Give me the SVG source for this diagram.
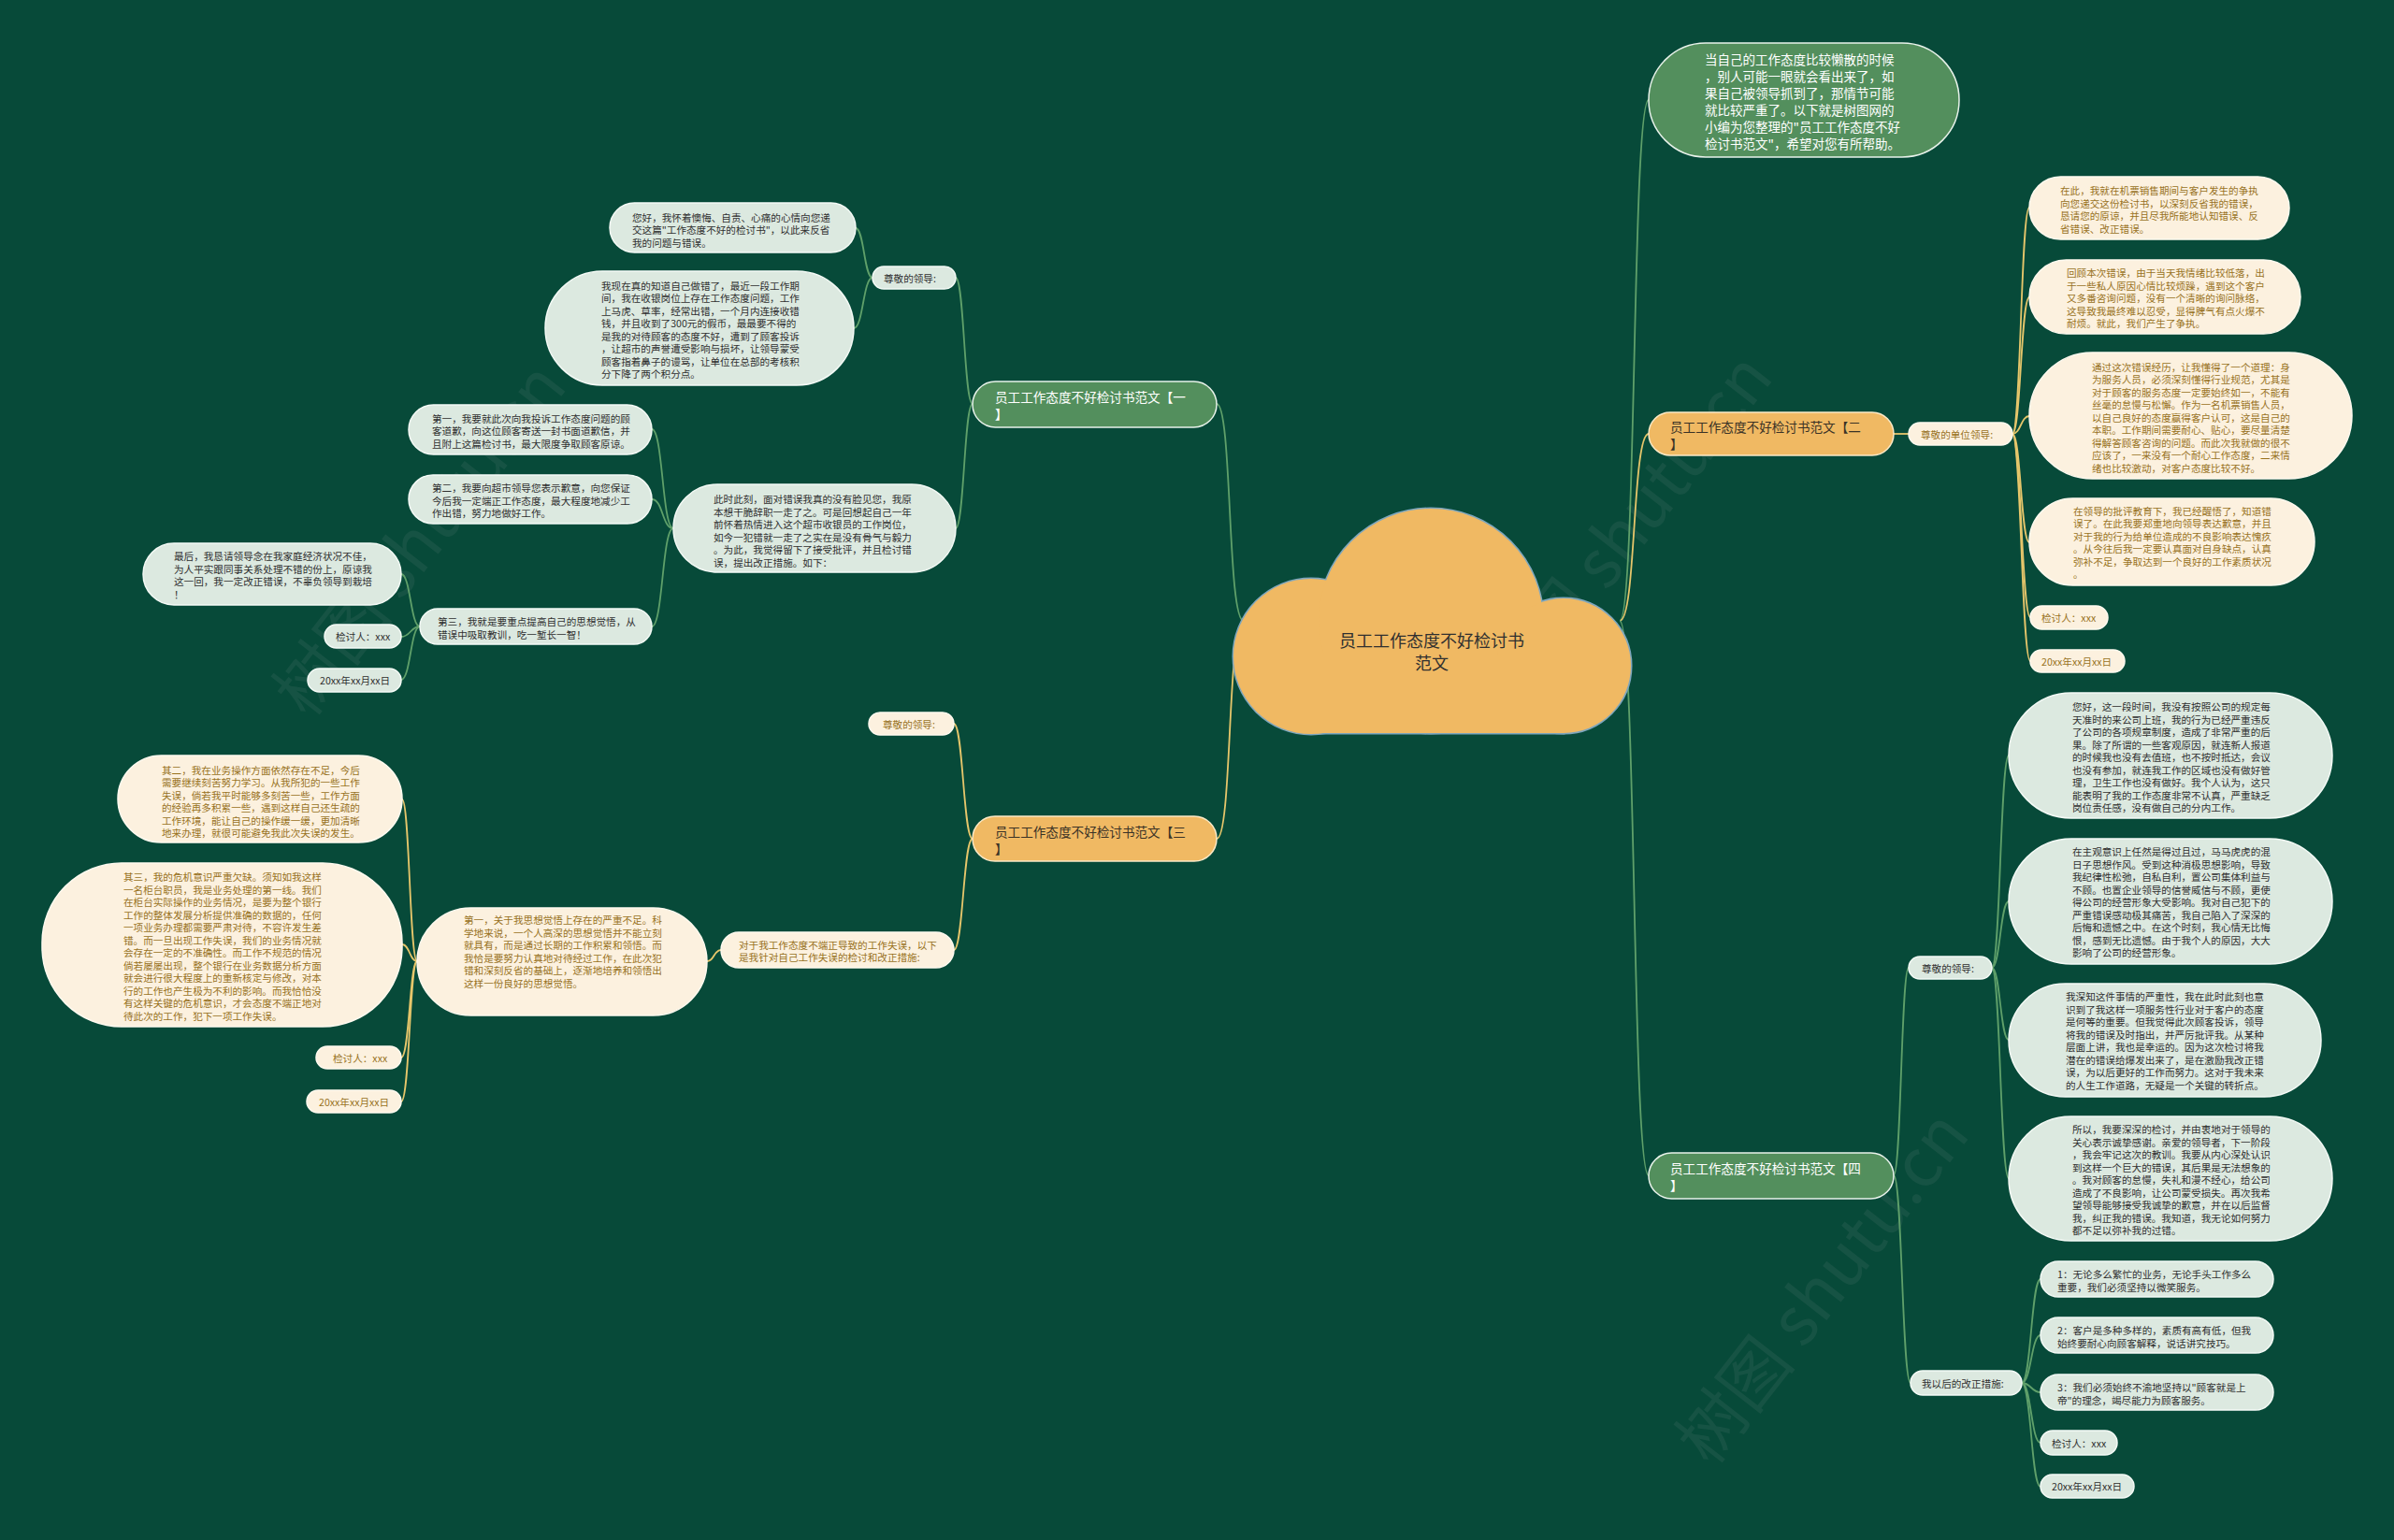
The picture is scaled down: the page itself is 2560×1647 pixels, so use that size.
<svg xmlns="http://www.w3.org/2000/svg" width="2560" height="1647" viewBox="0 0 2560 1647">
<style>
.t{font-family:"Noto Sans CJK SC","Noto Sans",sans-serif;font-size:10.6px;dominant-baseline:central}
.tg{fill:#2f2f2f}.tc{fill:#98711d}.tw{fill:#ffffff}.td{fill:#3a3226}
.cn{fill:#fcf1df;stroke:#fffaf0;stroke-width:1.5}
.gn{fill:#dce9e0;stroke:#f4faf6;stroke-width:1.5}
.gb{fill:#538f5d;stroke:#e8f2ea;stroke-width:1.5}
.ob{fill:#f0b963;stroke:#fbe9c6;stroke-width:1.5}
.b{font-size:13.6px}
.cy{fill:none;stroke:#e6c66b;stroke-width:1.8}
.cg{fill:none;stroke:#5fa06a;stroke-width:1.8}
.wm{font-family:"Noto Sans CJK SC",sans-serif;font-size:72px;fill:#b0b0b0;opacity:.09}
</style>
<rect width="2560" height="1647" fill="#074a39"/>

<g id="watermarks">
<text class="wm" transform="translate(330,770) rotate(-52)">树图 shutu.cn</text>
<text class="wm" transform="translate(1620,760) rotate(-52)">树图 shutu.cn</text>
<text class="wm" transform="translate(1830,1570) rotate(-52)">树图 shutu.cn</text>
</g>

<g id="connectors">
<path class="cg" d="M1732 664 C1750 664 1745 107 1763 107"/>
<path class="cy" d="M1732 664 C1750 664 1745 464 1763 464"/>
<path class="cg" d="M1732 664 C1750 664 1745 1257 1763 1257"/>
<path class="cg" d="M1330 664 C1312 664 1318 432 1301 432"/>
<path class="cy" d="M1330 664 C1312 664 1318 897 1301 897"/>

<path class="cy" d="M2025 464 L2041 464"/>
<path class="cy" d="M2152 464 C2161 464 2161 222 2170 222"/>
<path class="cy" d="M2152 464 C2161 464 2161 318 2170 318"/>
<path class="cy" d="M2152 464 C2161 464 2161 445 2170 445"/>
<path class="cy" d="M2152 464 C2161 464 2161 580 2170 580"/>
<path class="cy" d="M2152 464 C2161 464 2162 660 2171 660"/>
<path class="cy" d="M2152 464 C2161 464 2162 707 2171 707"/>

<path class="cg" d="M2025 1257 C2033 1257 2033 1035 2041 1035"/>
<path class="cg" d="M2025 1257 C2034 1257 2034 1479 2043 1479"/>
<path class="cg" d="M2130 1035 C2139 1035 2139 808 2148 808"/>
<path class="cg" d="M2130 1035 C2139 1035 2139 964 2148 964"/>
<path class="cg" d="M2130 1035 C2139 1035 2139 1112 2148 1112"/>
<path class="cg" d="M2130 1035 C2139 1035 2139 1260 2148 1260"/>
<path class="cg" d="M2162 1479 C2172 1479 2172 1368 2182 1368"/>
<path class="cg" d="M2162 1479 C2172 1479 2172 1428 2182 1428"/>
<path class="cg" d="M2162 1479 C2172 1479 2172 1489 2182 1489"/>
<path class="cg" d="M2162 1479 C2172 1479 2172 1543 2182 1543"/>
<path class="cg" d="M2162 1479 C2172 1479 2172 1590 2182 1590"/>

<path class="cg" d="M1040 432 C1031 432 1031 297 1022 297"/>
<path class="cg" d="M1040 432 C1031 432 1031 565 1022 565"/>
<path class="cg" d="M933 297 C924 297 924 244 915 244"/>
<path class="cg" d="M933 297 C923 297 923 351 913 351"/>
<path class="cg" d="M720 565 C708 565 709 459 697 459"/>
<path class="cg" d="M720 565 C708 565 709 534 697 534"/>
<path class="cg" d="M720 565 C708 565 709 670 697 670"/>
<path class="cg" d="M449 670 C439 670 439 614 429 614"/>
<path class="cg" d="M449 670 C439 670 439 681 429 681"/>
<path class="cg" d="M449 670 C439 670 439 727 429 727"/>

<path class="cy" d="M1040 897 C1030 897 1030 774 1020 774"/>
<path class="cy" d="M1040 897 C1030 897 1030 1016 1020 1016"/>
<path class="cy" d="M771 1016 C763 1016 764 1028 756 1028"/>
<path class="cy" d="M446 1028 C438 1028 438 855 430 855"/>
<path class="cy" d="M446 1028 C438 1028 438 1010 430 1010"/>
<path class="cy" d="M446 1028 C438 1028 438 1131 429 1131"/>
<path class="cy" d="M446 1028 C438 1028 438 1178 429 1178"/>
</g>

<g id="root">
<g fill="#f0b963" stroke="#7ea6bd" stroke-width="3">
<circle cx="1402" cy="702" r="83"/>
<circle cx="1530" cy="664" r="120"/>
<circle cx="1672" cy="712" r="72"/>
<rect x="1402" y="700" width="270" height="84"/>
</g>
<g fill="#f0b963">
<circle cx="1402" cy="702" r="83"/>
<circle cx="1530" cy="664" r="120"/>
<circle cx="1672" cy="712" r="72"/>
<rect x="1402" y="700" width="270" height="84"/>
</g>
<text class="t tg" style="font-size:18px" text-anchor="middle"><tspan x="1531" y="684">员工工作态度不好检讨书</tspan><tspan x="1531" y="708">范文</tspan></text>
</g>

<g id="intro">
<rect class="gb" x="1763" y="46" width="332" height="122" rx="61"/>
<text class="t tw" style="font-size:13.5px"><tspan x="1823" y="63">当自己的工作态度比较懒散的时候</tspan><tspan x="1823" y="81">，别人可能一眼就会看出来了，如</tspan><tspan x="1823" y="99">果自己被领导抓到了，那情节可能</tspan><tspan x="1823" y="117">就比较严重了。以下就是树图网的</tspan><tspan x="1823" y="135">小编为您整理的"员工工作态度不好</tspan><tspan x="1823" y="153">检讨书范文"，希望对您有所帮助。</tspan></text>
</g>

<g id="b1">
<rect class="gb" x="1040" y="408" width="261" height="49" rx="24.5"/>
<text class="t tw b"><tspan x="1064" y="424">员工工作态度不好检讨书范文【一</tspan><tspan x="1064" y="442">】</tspan></text>
</g>
<g id="b2">
<rect class="ob" x="1763" y="441" width="262" height="46" rx="23"/>
<text class="t td b"><tspan x="1786" y="456">员工工作态度不好检讨书范文【二</tspan><tspan x="1786" y="474">】</tspan></text>
</g>
<g id="b3">
<rect class="ob" x="1040" y="873" width="261" height="48" rx="24"/>
<text class="t td b"><tspan x="1064" y="889">员工工作态度不好检讨书范文【三</tspan><tspan x="1064" y="907">】</tspan></text>
</g>
<g id="b4">
<rect class="gb" x="1763" y="1233" width="262" height="49" rx="24.5"/>
<text class="t tw b"><tspan x="1786" y="1249">员工工作态度不好检讨书范文【四</tspan><tspan x="1786" y="1267">】</tspan></text>
</g>

<!-- branch 2 -->
<g id="b2-lead">
<rect class="cn" x="2041" y="452" width="111" height="24" rx="12"/>
<text class="t tc" x="2054" y="464">尊敬的单位领导:</text>
</g>
<g id="b2-a">
<rect class="cn" x="2170" y="189" width="278" height="67" rx="33.5"/>
<text class="t tc"><tspan x="2203" y="203">在此，我就在机票销售期间与客户发生的争执</tspan><tspan x="2203" y="216.5">向您递交这份检讨书，以深刻反省我的错误，</tspan><tspan x="2203" y="230">恳请您的原谅，并且尽我所能地认知错误、反</tspan><tspan x="2203" y="243.5">省错误、改正错误。</tspan></text>
</g>
<g id="b2-b">
<rect class="cn" x="2170" y="278" width="290" height="79" rx="39.5"/>
<text class="t tc"><tspan x="2210" y="291">回顾本次错误，由于当天我情绪比较低落，出</tspan><tspan x="2210" y="304.5">于一些私人原因心情比较烦躁，遇到这个客户</tspan><tspan x="2210" y="318">又多番咨询问题，没有一个清晰的询问脉络，</tspan><tspan x="2210" y="331.5">这导致我最终难以忍受，显得脾气有点火爆不</tspan><tspan x="2210" y="345">耐烦。就此，我们产生了争执。</tspan></text>
</g>
<g id="b2-c">
<rect class="cn" x="2170" y="377" width="345" height="135" rx="67.5"/>
<text class="t tc"><tspan x="2237" y="391.5">通过这次错误经历，让我懂得了一个道理：身</tspan><tspan x="2237" y="405">为服务人员，必须深刻懂得行业规范，尤其是</tspan><tspan x="2237" y="418.5">对于顾客的服务态度一定要始终如一，不能有</tspan><tspan x="2237" y="432">丝毫的怠慢与松懈。作为一名机票销售人员，</tspan><tspan x="2237" y="445.5">以自己良好的态度赢得客户认可，这是自己的</tspan><tspan x="2237" y="459">本职。工作期间需要耐心、贴心，要尽量清楚</tspan><tspan x="2237" y="472.5">得解答顾客咨询的问题。而此次我就做的很不</tspan><tspan x="2237" y="486">应该了，一来没有一个耐心工作态度，二来情</tspan><tspan x="2237" y="499.5">绪也比较激动，对客户态度比较不好。</tspan></text>
</g>
<g id="b2-d">
<rect class="cn" x="2170" y="533" width="305" height="93" rx="46.5"/>
<text class="t tc"><tspan x="2217" y="545.5">在领导的批评教育下，我已经醒悟了，知道错</tspan><tspan x="2217" y="559">误了。在此我要郑重地向领导表达歉意，并且</tspan><tspan x="2217" y="572.5">对于我的行为给单位造成的不良影响表达愧疚</tspan><tspan x="2217" y="586">。从今往后我一定要认真面对自身缺点，认真</tspan><tspan x="2217" y="599.5">弥补不足，争取达到一个良好的工作素质状况</tspan><tspan x="2217" y="613">。</tspan></text>
</g>
<g id="b2-sign">
<rect class="cn" x="2171" y="648" width="83" height="25" rx="12.5"/>
<text class="t tc" x="2183" y="660.5">检讨人：xxx</text>
</g>
<g id="b2-date">
<rect class="cn" x="2171" y="695" width="101" height="24" rx="12"/>
<text class="t tc" x="2183" y="707">20xx年xx月xx日</text>
</g>

<!-- branch 4 -->
<g id="b4-lead">
<rect class="gn" x="2041" y="1023" width="89" height="24" rx="12"/>
<text class="t tg" x="2055" y="1035">尊敬的领导:</text>
</g>
<g id="b4-e">
<rect class="gn" x="2148" y="741" width="346" height="134" rx="67"/>
<text class="t tg"><tspan x="2216" y="755">您好，这一段时间，我没有按照公司的规定每</tspan><tspan x="2216" y="768.5">天准时的来公司上班，我的行为已经严重违反</tspan><tspan x="2216" y="782">了公司的各项规章制度，造成了非常严重的后</tspan><tspan x="2216" y="795.5">果。除了所谓的一些客观原因，就连新人报道</tspan><tspan x="2216" y="809">的时候我也没有去值班，也不按时抵达，会议</tspan><tspan x="2216" y="822.5">也没有参加，就连我工作的区域也没有做好管</tspan><tspan x="2216" y="836">理，卫生工作也没有做好。我个人认为，这只</tspan><tspan x="2216" y="849.5">能表明了我的工作态度非常不认真，严重缺乏</tspan><tspan x="2216" y="863">岗位责任感，没有做自己的分内工作。</tspan></text>
</g>
<g id="b4-f">
<rect class="gn" x="2148" y="897" width="346" height="134" rx="67"/>
<text class="t tg"><tspan x="2216" y="910">在主观意识上任然是得过且过，马马虎虎的混</tspan><tspan x="2216" y="923.5">日子思想作风。受到这种消极思想影响，导致</tspan><tspan x="2216" y="937">我纪律性松弛，自私自利，置公司集体利益与</tspan><tspan x="2216" y="950.5">不顾。也置企业领导的信誉威信与不顾，更使</tspan><tspan x="2216" y="964">得公司的经营形象大受影响。我对自己犯下的</tspan><tspan x="2216" y="977.5">严重错误感动极其痛苦，我自己陷入了深深的</tspan><tspan x="2216" y="991">后悔和遗憾之中。在这个时刻，我心情无比悔</tspan><tspan x="2216" y="1004.5">恨，感到无比遗憾。由于我个人的原因，大大</tspan><tspan x="2216" y="1018">影响了公司的经营形象。</tspan></text>
</g>
<g id="b4-g">
<rect class="gn" x="2148" y="1052" width="334" height="121" rx="60.5"/>
<text class="t tg"><tspan x="2209" y="1065">我深知这件事情的严重性，我在此时此刻也意</tspan><tspan x="2209" y="1078.5">识到了我这样一项服务性行业对于客户的态度</tspan><tspan x="2209" y="1092">是何等的重要。但我觉得此次顾客投诉，领导</tspan><tspan x="2209" y="1105.5">将我的错误及时指出，并严厉批评我。从某种</tspan><tspan x="2209" y="1119">层面上讲，我也是幸运的。因为这次检讨将我</tspan><tspan x="2209" y="1132.5">潜在的错误给爆发出来了，是在激励我改正错</tspan><tspan x="2209" y="1146">误，为以后更好的工作而努力。这对于我未来</tspan><tspan x="2209" y="1159.5">的人生工作道路，无疑是一个关键的转折点。</tspan></text>
</g>
<g id="b4-h">
<rect class="gn" x="2148" y="1194" width="346" height="133" rx="66.5"/>
<text class="t tg"><tspan x="2216" y="1207">所以，我要深深的检讨，并由衷地对于领导的</tspan><tspan x="2216" y="1220.5">关心表示诚挚感谢。亲爱的领导者，下一阶段</tspan><tspan x="2216" y="1234">，我会牢记这次的教训。我要从内心深处认识</tspan><tspan x="2216" y="1247.5">到这样一个巨大的错误，其后果是无法想象的</tspan><tspan x="2216" y="1261">。我对顾客的怠慢，失礼和漫不经心，给公司</tspan><tspan x="2216" y="1274.5">造成了不良影响，让公司蒙受损失。再次我希</tspan><tspan x="2216" y="1288">望领导能够接受我诚挚的歉意，并在以后监督</tspan><tspan x="2216" y="1301.5">我，纠正我的错误。我知道，我无论如何努力</tspan><tspan x="2216" y="1315">都不足以弥补我的过错。</tspan></text>
</g>
<g id="b4-fix">
<rect class="gn" x="2043" y="1466" width="119" height="26" rx="13"/>
<text class="t tg" x="2055" y="1479">我以后的改正措施:</text>
</g>
<g id="b4-fix1">
<rect class="gn" x="2182" y="1349" width="249" height="38" rx="19"/>
<text class="t tg"><tspan x="2200" y="1362">1：无论多么繁忙的业务，无论手头工作多么</tspan><tspan x="2200" y="1375.5">重要，我们必须坚持以微笑服务。</tspan></text>
</g>
<g id="b4-fix2">
<rect class="gn" x="2182" y="1409" width="249" height="38" rx="19"/>
<text class="t tg"><tspan x="2200" y="1422">2：客户是多种多样的，素质有高有低，但我</tspan><tspan x="2200" y="1435.5">始终要耐心向顾客解释，说话讲究技巧。</tspan></text>
</g>
<g id="b4-fix3">
<rect class="gn" x="2182" y="1470" width="249" height="38" rx="19"/>
<text class="t tg"><tspan x="2200" y="1483">3：我们必须始终不渝地坚持以"顾客就是上</tspan><tspan x="2200" y="1496.5">帝"的理念，竭尽能力为顾客服务。</tspan></text>
</g>
<g id="b4-sign">
<rect class="gn" x="2182" y="1530" width="82" height="26" rx="13"/>
<text class="t tg" x="2194" y="1543">检讨人：xxx</text>
</g>
<g id="b4-date">
<rect class="gn" x="2182" y="1577" width="100" height="25" rx="12.5"/>
<text class="t tg" x="2194" y="1589.5">20xx年xx月xx日</text>
</g>

<!-- branch 1 -->
<g id="b1-lead">
<rect class="gn" x="933" y="285" width="89" height="24" rx="12"/>
<text class="t tg" x="945" y="297">尊敬的领导:</text>
</g>
<g id="b1-i">
<rect class="gn" x="652" y="217" width="263" height="53" rx="26.5"/>
<text class="t tg"><tspan x="676" y="231.5">您好，我怀着懊悔、自责、心痛的心情向您递</tspan><tspan x="676" y="245">交这篇"工作态度不好的检讨书"，以此来反省</tspan><tspan x="676" y="258.5">我的问题与错误。</tspan></text>
</g>
<g id="b1-j">
<rect class="gn" x="583" y="290" width="330" height="122" rx="61"/>
<text class="t tg"><tspan x="643" y="304.5">我现在真的知道自己做错了，最近一段工作期</tspan><tspan x="643" y="318">间，我在收银岗位上存在工作态度问题，工作</tspan><tspan x="643" y="331.5">上马虎、草率，经常出错，一个月内连接收错</tspan><tspan x="643" y="345">钱，并且收到了300元的假币，最最要不得的</tspan><tspan x="643" y="358.5">是我的对待顾客的态度不好，遭到了顾客投诉</tspan><tspan x="643" y="372">，让超市的声誉遭受影响与损坏，让领导蒙受</tspan><tspan x="643" y="385.5">顾客指着鼻子的谩骂，让单位在总部的考核积</tspan><tspan x="643" y="399">分下降了两个积分点。</tspan></text>
</g>
<g id="b1-k">
<rect class="gn" x="720" y="518" width="302" height="94" rx="47"/>
<text class="t tg"><tspan x="763" y="533">此时此刻，面对错误我真的没有脸见您，我原</tspan><tspan x="763" y="546.5">本想干脆辞职一走了之。可是回想起自己一年</tspan><tspan x="763" y="560">前怀着热情进入这个超市收银员的工作岗位，</tspan><tspan x="763" y="573.5">如今一犯错就一走了之实在是没有骨气与毅力</tspan><tspan x="763" y="587">。为此，我觉得留下了接受批评，并且检讨错</tspan><tspan x="763" y="600.5">误，提出改正措施。如下：</tspan></text>
</g>
<g id="b1-k1">
<rect class="gn" x="437" y="433" width="260" height="53" rx="26.5"/>
<text class="t tg"><tspan x="462" y="446.5">第一，我要就此次向我投诉工作态度问题的顾</tspan><tspan x="462" y="460">客道歉，向这位顾客寄送一封书面道歉信，并</tspan><tspan x="462" y="473.5">且附上这篇检讨书，最大限度争取顾客原谅。</tspan></text>
</g>
<g id="b1-k2">
<rect class="gn" x="437" y="508" width="260" height="52" rx="26"/>
<text class="t tg"><tspan x="462" y="521">第二，我要向超市领导您表示歉意，向您保证</tspan><tspan x="462" y="534.5">今后我一定端正工作态度，最大程度地减少工</tspan><tspan x="462" y="548">作出错，努力地做好工作。</tspan></text>
</g>
<g id="b1-k3">
<rect class="gn" x="449" y="651" width="248" height="38" rx="19"/>
<text class="t tg"><tspan x="468" y="664">第三，我就是要重点提高自己的思想觉悟，从</tspan><tspan x="468" y="677.5">错误中吸取教训，吃一堑长一智！</tspan></text>
</g>
<g id="b1-last">
<rect class="gn" x="153" y="581" width="276" height="66" rx="33"/>
<text class="t tg"><tspan x="186" y="594">最后，我恳请领导念在我家庭经济状况不佳，</tspan><tspan x="186" y="607.5">为人平实跟同事关系处理不错的份上，原谅我</tspan><tspan x="186" y="621">这一回，我一定改正错误，不辜负领导到栽培</tspan><tspan x="186" y="634.5">！</tspan></text>
</g>
<g id="b1-sign">
<rect class="gn" x="347" y="668" width="82" height="25" rx="12.5"/>
<text class="t tg" x="359" y="680.5">检讨人：xxx</text>
</g>
<g id="b1-date">
<rect class="gn" x="329" y="715" width="100" height="25" rx="12.5"/>
<text class="t tg" x="342" y="727.5">20xx年xx月xx日</text>
</g>

<!-- branch 3 -->
<g id="b3-lead">
<rect class="cn" x="929" y="762" width="91" height="24" rx="12"/>
<text class="t tc" x="944" y="774">尊敬的领导:</text>
</g>
<g id="b3-intro">
<rect class="cn" x="771" y="997" width="249" height="38" rx="19"/>
<text class="t tc"><tspan x="790" y="1009.5">对于我工作态度不端正导致的工作失误，以下</tspan><tspan x="790" y="1023">是我针对自己工作失误的检讨和改正措施:</tspan></text>
</g>
<g id="b3-first">
<rect class="cn" x="446" y="971" width="310" height="115" rx="57.5"/>
<text class="t tc"><tspan x="496" y="983">第一，关于我思想觉悟上存在的严重不足。科</tspan><tspan x="496" y="996.5">学地来说，一个人高深的思想觉悟并不能立刻</tspan><tspan x="496" y="1010">就具有，而是通过长期的工作积累和领悟。而</tspan><tspan x="496" y="1023.5">我恰是要努力认真地对待经过工作，在此次犯</tspan><tspan x="496" y="1037">错和深刻反省的基础上，逐渐地培养和领悟出</tspan><tspan x="496" y="1050.5">这样一份良好的思想觉悟。</tspan></text>
</g>
<g id="b3-second">
<rect class="cn" x="126" y="808" width="304" height="93" rx="46.5"/>
<text class="t tc"><tspan x="173" y="822.5">其二，我在业务操作方面依然存在不足，今后</tspan><tspan x="173" y="836">需要继续刻苦努力学习。从我所犯的一些工作</tspan><tspan x="173" y="849.5">失误，倘若我平时能够多刻苦一些，工作方面</tspan><tspan x="173" y="863">的经验再多积累一些，遇到这样自己还生疏的</tspan><tspan x="173" y="876.5">工作环境，能让自己的操作缓一缓，更加清晰</tspan><tspan x="173" y="890">地来办理，就很可能避免我此次失误的发生。</tspan></text>
</g>
<g id="b3-third">
<rect class="cn" x="45" y="923" width="385" height="175" rx="85"/>
<text class="t tc"><tspan x="132" y="937">其三，我的危机意识严重欠缺。须知如我这样</tspan><tspan x="132" y="950.5">一名柜台职员，我是业务处理的第一线。我们</tspan><tspan x="132" y="964">在柜台实际操作的业务情况，是要为整个银行</tspan><tspan x="132" y="977.5">工作的整体发展分析提供准确的数据的，任何</tspan><tspan x="132" y="991">一项业务办理都需要严肃对待，不容许发生差</tspan><tspan x="132" y="1004.5">错。而一旦出现工作失误，我们的业务情况就</tspan><tspan x="132" y="1018">会存在一定的不准确性。而工作不规范的情况</tspan><tspan x="132" y="1031.5">倘若屡屡出现，整个银行在业务数据分析方面</tspan><tspan x="132" y="1045">就会进行很大程度上的重新核定与修改，对本</tspan><tspan x="132" y="1058.5">行的工作也产生极为不利的影响。而我恰恰没</tspan><tspan x="132" y="1072">有这样关键的危机意识，才会态度不端正地对</tspan><tspan x="132" y="1085.5">待此次的工作，犯下一项工作失误。</tspan></text>
</g>
<g id="b3-sign">
<rect class="cn" x="338" y="1119" width="91" height="24" rx="12"/>
<text class="t tc" x="356" y="1131">检讨人：xxx</text>
</g>
<g id="b3-date">
<rect class="cn" x="328" y="1166" width="101" height="24" rx="12"/>
<text class="t tc" x="341" y="1178">20xx年xx月xx日</text>
</g>
</svg>
